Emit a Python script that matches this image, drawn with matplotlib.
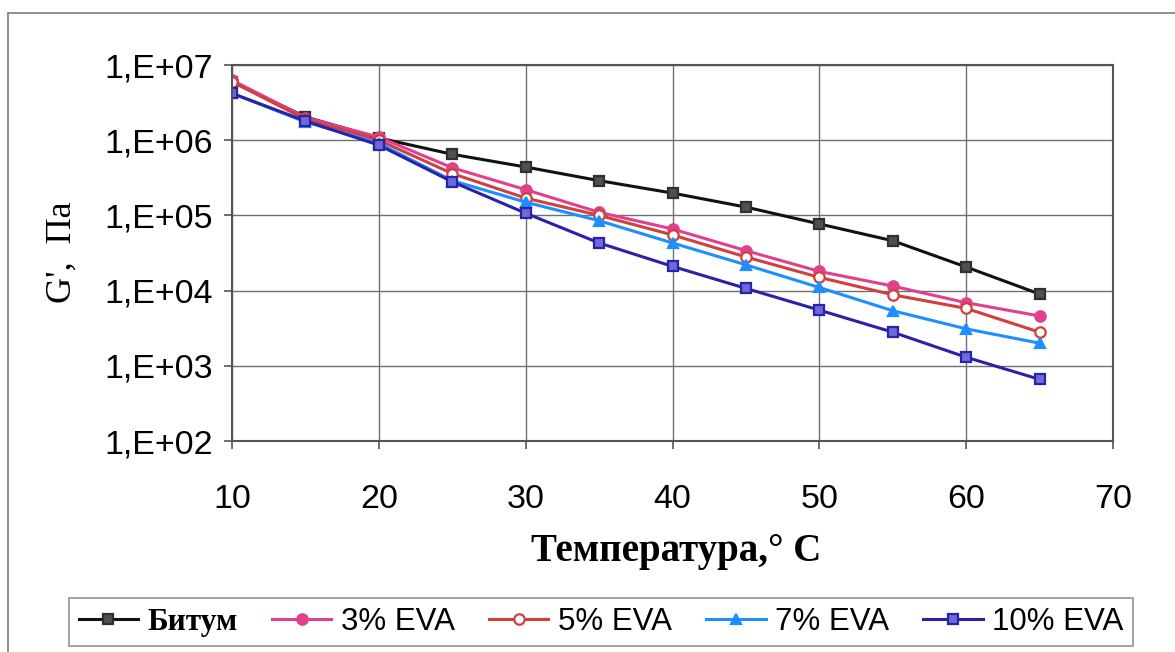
## G' vs temperature for bitumen and EVA-modified bitumen ##

import numpy as np
import matplotlib
matplotlib.use("Agg")
from matplotlib import pyplot as plt
from matplotlib.lines import Line2D

plt.rcParams['font.family'] = ['Liberation Sans', 'DejaVu Sans']

# Data
temp = [10, 15, 20, 25, 30, 35, 40, 45, 50, 55, 60, 65]
bitum = [6.0e6, 2.04e6, 1.07e6, 6.5e5, 4.4e5, 2.9e5, 1.98e5, 1.29e5, 7.7e4, 4.6e4, 2.06e4, 9.0e3]
eva3 = [6.3e6, 2.0e6, 1.1e6, 4.3e5, 2.2e5, 1.1e5, 6.6e4, 3.4e4, 1.8e4, 1.15e4, 6.9e3, 4.6e3]
eva5 = [6.0e6, 1.9e6, 1.0e6, 3.6e5, 1.7e5, 1.0e5, 5.5e4, 2.8e4, 1.5e4, 8.8e3, 5.8e3, 2.8e3]
eva7 = [4.2e6, 1.75e6, 9.1e5, 2.9e5, 1.5e5, 8.5e4, 4.3e4, 2.2e4, 1.1e4, 5.4e3, 3.1e3, 2.0e3]
eva10 = [4.2e6, 1.8e6, 8.6e5, 2.8e5, 1.07e5, 4.3e4, 2.1e4, 1.07e4, 5.5e3, 2.8e3, 1.3e3, 6.6e2]

names = ["Битум", "3% EVA", "5% EVA", "7% EVA", "10% EVA"]
xticks = [10, 20, 30, 40, 50, 60, 70]
yticks = [1e2, 1e3, 1e4, 1e5, 1e6, 1e7]
ylabels = ["1,E+02", "1,E+03", "1,E+04", "1,E+05", "1,E+06", "1,E+07"]

# Styles: (line colour, marker, marker face, marker edge)
styles = [
	("#111111", "s", "#505050", "#303030"),
	("#e0408c", "o", "#e0408c", "#e0408c"),
	("#d0403c", "o", "white", "#d0403c"),
	("#1e8fff", "^", "#1e8fff", "#1e8fff"),
	("#2a22a8", "s", "#6a6ad8", "#2a22a8"),
]

fig = plt.figure(figsize=(11.75, 6.52), dpi=100)
ax = fig.add_axes([232/1175, 1 - 441/652, (1113 - 232)/1175, (441 - 65)/652])

series = [bitum, eva3, eva5, eva7, eva10]
handles = []
for vals, name, (c, m, fc, ec) in zip(series, names, styles):
	h, = ax.plot(temp, vals, color=c, lw=2.2, marker=m, markersize=7.5,
			markerfacecolor=fc, markeredgecolor=ec, markeredgewidth=1.6, label=name)
	handles.append(h)

ax.set_yscale("log")
ax.set_xlim(10, 70)
ax.set_ylim(1e2, 1e7)
ax.set_xticks(xticks)
ax.set_xticklabels([str(t) for t in xticks])
ax.set_yticks(yticks)
ax.set_yticklabels(ylabels)
ax.yaxis.set_minor_locator(matplotlib.ticker.NullLocator())
ax.tick_params(axis='both', labelsize=24.5, length=6, direction='out', color='#555555', width=1.2)
ax.tick_params(axis='x', pad=25)
ax.tick_params(axis='y', pad=8)
ax.grid(True, color='#707070', lw=1.0)
for s in ax.spines.values():
	s.set_color('#555555')
	s.set_linewidth(1.5)

fig.text(62/1175, 1 - 252/652, "G',  Па", family=['Liberation Serif'], fontsize=26,
	rotation=90, ha='center', va='center')
fig.text(676/1175, 1 - 551/652, "Температура,° C", family=['Liberation Serif'],
	fontsize=28, fontweight='bold', ha='center', va='center')

leg = fig.legend(handles=handles, loc='center', bbox_to_anchor=(601/1175, 1 - 622/652),
	ncol=5, fontsize=22.5, frameon=True, fancybox=False, edgecolor='#777777',
	handlelength=1.9, handletextpad=0.3, columnspacing=1.1, borderpad=0.3)
leg.get_frame().set_linewidth(1.2)
leg.get_texts()[0].set_fontfamily(['Liberation Serif'])
leg.get_texts()[0].set_fontweight('bold')

# outer chart border (left and top edges are visible)
fig.add_artist(Line2D([8/1175, 8/1175], [0, 1 - 13/652], color='#888888', lw=1.3))
fig.add_artist(Line2D([8/1175, 1], [1 - 13/652, 1 - 13/652], color='#888888', lw=1.3))

fig.savefig("out.png", dpi=100)
